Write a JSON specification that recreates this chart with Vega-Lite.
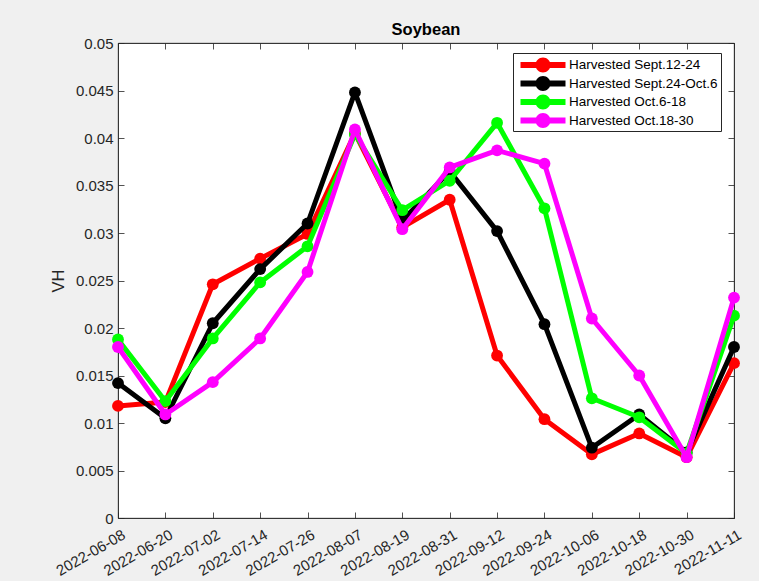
{
  "$schema": "https://vega.github.io/schema/vega-lite/v6.json",
  "width": 616,
  "height": 475,
  "autosize": {"type": "none"},
  "padding": {"left": 118, "top": 43, "right": 25, "bottom": 63},
  "background": "#f0f0f0",
  "config": {
    "view": {"fill": "white", "stroke": "#262626", "strokeWidth": 0.8},
    "font": "Liberation Sans",
    "axis": {
      "labelFont": "Liberation Sans",
      "labelFontSize": 15,
      "labelColor": "#262626",
      "domainColor": "#262626",
      "domainWidth": 0.8,
      "tickColor": "#262626",
      "tickWidth": 0.8,
      "tickSize": -6,
      "grid": false,
      "titleFont": "Liberation Sans",
      "titleColor": "#262626",
      "titleFontWeight": "normal"
    }
  },
  "title": {
    "text": "Soybean",
    "font": "Liberation Sans",
    "fontSize": 16.5,
    "fontWeight": "bold",
    "color": "#000000",
    "frame": "group",
    "anchor": "middle",
    "offset": -2
  },
  "data": {
    "values": [
      {"date": "2022-06-08", "series": "Harvested Sept.12-24", "vh": 0.0118},
      {"date": "2022-06-20", "series": "Harvested Sept.12-24", "vh": 0.0122},
      {"date": "2022-07-02", "series": "Harvested Sept.12-24", "vh": 0.0246},
      {"date": "2022-07-14", "series": "Harvested Sept.12-24", "vh": 0.0273},
      {"date": "2022-07-26", "series": "Harvested Sept.12-24", "vh": 0.0299},
      {"date": "2022-08-07", "series": "Harvested Sept.12-24", "vh": 0.0405},
      {"date": "2022-08-19", "series": "Harvested Sept.12-24", "vh": 0.0306},
      {"date": "2022-08-31", "series": "Harvested Sept.12-24", "vh": 0.0335},
      {"date": "2022-09-12", "series": "Harvested Sept.12-24", "vh": 0.0171},
      {"date": "2022-09-24", "series": "Harvested Sept.12-24", "vh": 0.0104},
      {"date": "2022-10-06", "series": "Harvested Sept.12-24", "vh": 0.0067},
      {"date": "2022-10-18", "series": "Harvested Sept.12-24", "vh": 0.0089},
      {"date": "2022-10-30", "series": "Harvested Sept.12-24", "vh": 0.0064},
      {"date": "2022-11-11", "series": "Harvested Sept.12-24", "vh": 0.0163},
      {"date": "2022-06-08", "series": "Harvested Sept.24-Oct.6", "vh": 0.0142},
      {"date": "2022-06-20", "series": "Harvested Sept.24-Oct.6", "vh": 0.0105},
      {"date": "2022-07-02", "series": "Harvested Sept.24-Oct.6", "vh": 0.0205},
      {"date": "2022-07-14", "series": "Harvested Sept.24-Oct.6", "vh": 0.0262},
      {"date": "2022-07-26", "series": "Harvested Sept.24-Oct.6", "vh": 0.0310},
      {"date": "2022-08-07", "series": "Harvested Sept.24-Oct.6", "vh": 0.0448},
      {"date": "2022-08-19", "series": "Harvested Sept.24-Oct.6", "vh": 0.0313},
      {"date": "2022-08-31", "series": "Harvested Sept.24-Oct.6", "vh": 0.0365},
      {"date": "2022-09-12", "series": "Harvested Sept.24-Oct.6", "vh": 0.0302},
      {"date": "2022-09-24", "series": "Harvested Sept.24-Oct.6", "vh": 0.0204},
      {"date": "2022-10-06", "series": "Harvested Sept.24-Oct.6", "vh": 0.0074},
      {"date": "2022-10-18", "series": "Harvested Sept.24-Oct.6", "vh": 0.0109},
      {"date": "2022-10-30", "series": "Harvested Sept.24-Oct.6", "vh": 0.0069},
      {"date": "2022-11-11", "series": "Harvested Sept.24-Oct.6", "vh": 0.0180},
      {"date": "2022-06-08", "series": "Harvested Oct.6-18", "vh": 0.0188},
      {"date": "2022-06-20", "series": "Harvested Oct.6-18", "vh": 0.0123},
      {"date": "2022-07-02", "series": "Harvested Oct.6-18", "vh": 0.0189},
      {"date": "2022-07-14", "series": "Harvested Oct.6-18", "vh": 0.0248},
      {"date": "2022-07-26", "series": "Harvested Oct.6-18", "vh": 0.0286},
      {"date": "2022-08-07", "series": "Harvested Oct.6-18", "vh": 0.0404},
      {"date": "2022-08-19", "series": "Harvested Oct.6-18", "vh": 0.0324},
      {"date": "2022-08-31", "series": "Harvested Oct.6-18", "vh": 0.0355},
      {"date": "2022-09-12", "series": "Harvested Oct.6-18", "vh": 0.0416},
      {"date": "2022-09-24", "series": "Harvested Oct.6-18", "vh": 0.0326},
      {"date": "2022-10-06", "series": "Harvested Oct.6-18", "vh": 0.0126},
      {"date": "2022-10-18", "series": "Harvested Oct.6-18", "vh": 0.0106},
      {"date": "2022-10-30", "series": "Harvested Oct.6-18", "vh": 0.0068},
      {"date": "2022-11-11", "series": "Harvested Oct.6-18", "vh": 0.0213},
      {"date": "2022-06-08", "series": "Harvested Oct.18-30", "vh": 0.0180},
      {"date": "2022-06-20", "series": "Harvested Oct.18-30", "vh": 0.0109},
      {"date": "2022-07-02", "series": "Harvested Oct.18-30", "vh": 0.0143},
      {"date": "2022-07-14", "series": "Harvested Oct.18-30", "vh": 0.0189},
      {"date": "2022-07-26", "series": "Harvested Oct.18-30", "vh": 0.0259},
      {"date": "2022-08-07", "series": "Harvested Oct.18-30", "vh": 0.0409},
      {"date": "2022-08-19", "series": "Harvested Oct.18-30", "vh": 0.0304},
      {"date": "2022-08-31", "series": "Harvested Oct.18-30", "vh": 0.0369},
      {"date": "2022-09-12", "series": "Harvested Oct.18-30", "vh": 0.0387},
      {"date": "2022-09-24", "series": "Harvested Oct.18-30", "vh": 0.0373},
      {"date": "2022-10-06", "series": "Harvested Oct.18-30", "vh": 0.0210},
      {"date": "2022-10-18", "series": "Harvested Oct.18-30", "vh": 0.0150},
      {"date": "2022-10-30", "series": "Harvested Oct.18-30", "vh": 0.0064},
      {"date": "2022-11-11", "series": "Harvested Oct.18-30", "vh": 0.0232}
    ]
  },
  "resolve": {"axis": {"x": "independent", "y": "independent"}},
  "layer": [
    {
      "encoding": {
        "x": {
          "field": "date",
          "type": "ordinal",
          "scale": {"type": "point", "padding": 0},
          "axis": {
            "title": null,
            "labelAngle": -30,
            "labelAlign": "right",
            "labelBaseline": "top",
            "labelPadding": 15,
            "labelOffset": 2
          }
        },
        "y": {
          "field": "vh",
          "type": "quantitative",
          "scale": {"domain": [0, 0.05], "nice": false, "zero": true},
          "axis": {
            "title": "VH",
            "titleFontSize": 16.5,
            "titlePadding": 9,
            "values": [0, 0.005, 0.01, 0.015, 0.02, 0.025, 0.03, 0.035, 0.04, 0.045, 0.05],
            "format": "~g",
            "labelPadding": 11
          }
        },
        "color": {
          "field": "series",
          "type": "nominal",
          "scale": {
            "domain": ["Harvested Sept.12-24", "Harvested Sept.24-Oct.6", "Harvested Oct.6-18", "Harvested Oct.18-30"],
            "range": ["#ff0000", "#000000", "#00ff00", "#ff00ff"]
          },
          "legend": {
            "title": null,
            "orient": "none",
            "legendX": 395,
            "legendY": 10,
            "direction": "vertical",
            "fillColor": "white",
            "strokeColor": "#262626",
            "padding": 3,
            "rowPadding": 1.5,
            "labelFont": "Liberation Sans",
            "labelFontSize": 13.5,
            "labelColor": "#000000",
            "labelLimit": 300,
            "symbolType": "M-2.5,-0.33H2.5V0.33H-2.5Z M0.83,0A0.83,0.83 0 1,1 -0.83,0A0.83,0.83 0 1,1 0.83,0Z",
            "symbolSize": 324,
            "symbolStrokeWidth": 0,
            "symbolOffset": 18,
            "labelOffset": 17,
            "encode": {
              "symbols": {
                "update": {
                  "fill": {"scale": "color", "field": "value"},
                  "stroke": {"value": "transparent"},
                  "strokeWidth": {"value": 0},
                  "opacity": {"value": 1}
                }
              }
            }
          }
        }
      },
      "layer": [
        {
          "transform": [{"filter": "datum.series === 'Harvested Sept.12-24'"}],
          "mark": {"type": "line", "strokeWidth": 5, "strokeJoin": "round", "point": {"filled": true, "size": 140, "opacity": 1}}
        },
        {
          "transform": [{"filter": "datum.series === 'Harvested Sept.24-Oct.6'"}],
          "mark": {"type": "line", "strokeWidth": 5, "strokeJoin": "round", "point": {"filled": true, "size": 140, "opacity": 1}}
        },
        {
          "transform": [{"filter": "datum.series === 'Harvested Oct.6-18'"}],
          "mark": {"type": "line", "strokeWidth": 5, "strokeJoin": "round", "point": {"filled": true, "size": 140, "opacity": 1}}
        },
        {
          "transform": [{"filter": "datum.series === 'Harvested Oct.18-30'"}],
          "mark": {"type": "line", "strokeWidth": 5, "strokeJoin": "round", "point": {"filled": true, "size": 140, "opacity": 1}}
        }
      ]
    },
    {
      "mark": {"type": "point", "opacity": 0},
      "encoding": {
        "x": {
          "field": "date",
          "type": "ordinal",
          "axis": {"orient": "top", "title": null, "labels": false}
        },
        "y": {
          "field": "vh",
          "type": "quantitative",
          "axis": {
            "orient": "right",
            "title": null,
            "labels": false,
            "values": [0, 0.005, 0.01, 0.015, 0.02, 0.025, 0.03, 0.035, 0.04, 0.045, 0.05]
          }
        }
      }
    }
  ]
}
